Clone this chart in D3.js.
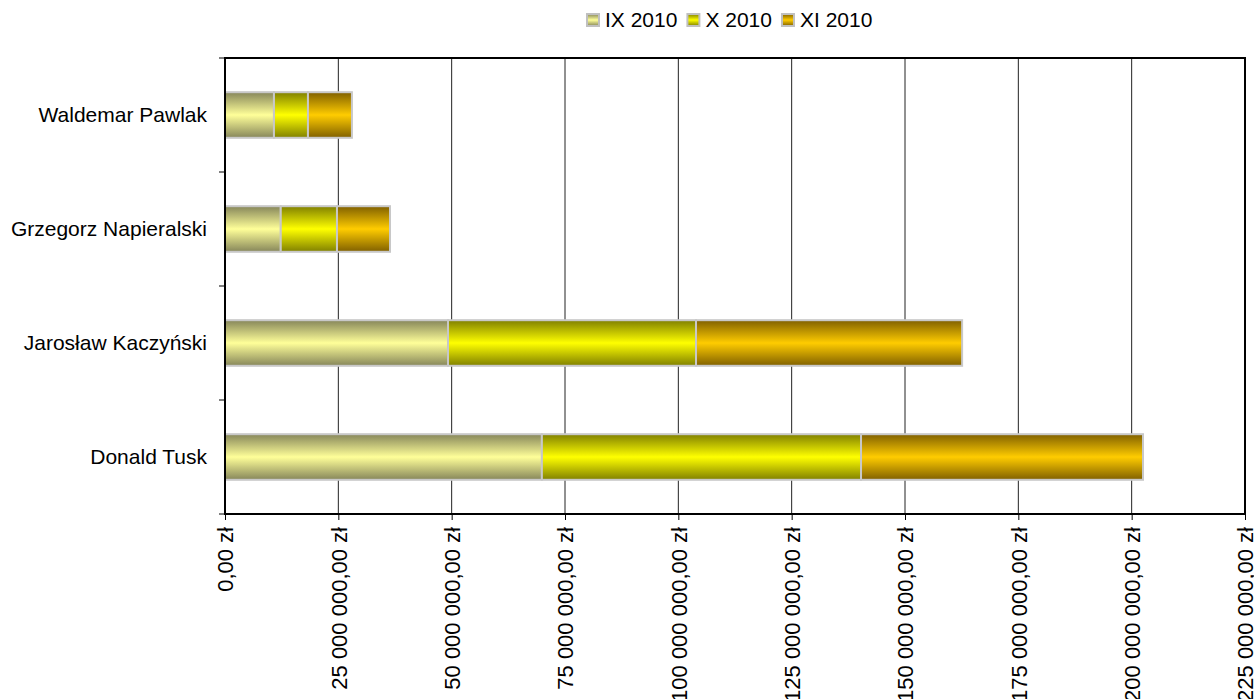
<!DOCTYPE html>
<html>
<head>
<meta charset="utf-8">
<script src="https://cdn.jsdelivr.net/npm/d3@7"></script>
<style>
  body { margin: 0; background: #fff; }
  text { font-family: "Liberation Sans", Arial, sans-serif; fill: #000; }
</style>
</head>
<body>
<script>
const categories = ['Waldemar Pawlak', 'Grzegorz Napieralski', 'Jarosław Kaczyński', 'Donald Tusk']
const seriesNames = ['IX 2010', 'X 2010', 'XI 2010']
const ix2010 = [10.8e6, 12.3e6, 49.2e6, 69.9e6]
const x2010 = [7.5e6, 12.4e6, 54.7e6, 70.4e6]
const xi2010 = [9.7e6, 11.7e6, 58.7e6, 62.2e6]
const tickValues = [0, 25e6, 50e6, 75e6, 100e6, 125e6, 150e6, 175e6, 200e6, 225e6]
const colors = [
  {edge: '#86865a', mid: '#ffff99'},
  {edge: '#808000', mid: '#ffff00'},
  {edge: '#806000', mid: '#ffcc00'}
]

const width = 1254, height = 699
const margin = {left: 225, right: 9, top: 58, bottom: 185}
const plotW = width - margin.left - margin.right
const plotH = height - margin.top - margin.bottom

const svg = d3.select('body').append('svg')
  .attr('width', width)
  .attr('height', height)

// gradients per series
const defs = svg.append('defs')
colors.forEach((c, i) => {
  const g = defs.append('linearGradient')
    .attr('id', 'grad' + i)
    .attr('x1', 0).attr('y1', 0).attr('x2', 0).attr('y2', 1)
  g.append('stop').attr('offset', '0%').attr('stop-color', c.edge)
  g.append('stop').attr('offset', '50%').attr('stop-color', c.mid)
  g.append('stop').attr('offset', '100%').attr('stop-color', c.edge)
})

const x = d3.scaleLinear().domain([0, 225e6]).range([0, plotW])
const y = d3.scaleBand().domain(categories).range([0, plotH]).paddingInner(0.6).paddingOuter(0.3)

const plot = svg.append('g').attr('transform', `translate(${margin.left},${margin.top})`)

// gridlines
plot.selectAll('.grid').data(tickValues.slice(1, -1))
  .enter().append('line')
  .attr('class', 'grid')
  .attr('x1', d => x(d)).attr('x2', d => x(d))
  .attr('y1', 0).attr('y2', plotH)
  .style('stroke', '#222').style('stroke-width', 1)

// stacked data
const rows = categories.map((c, i) => ({name: c, 'IX 2010': ix2010[i], 'X 2010': x2010[i], 'XI 2010': xi2010[i]}))
const stack = d3.stack().keys(seriesNames)(rows)

plot.selectAll('.series').data(stack)
  .enter().append('g')
  .attr('class', 'series')
  .attr('fill', (d, i) => `url(#grad${i})`)
  .selectAll('rect').data(d => d)
  .enter().append('rect')
  .attr('x', d => x(d[0]))
  .attr('y', d => y(d.data.name))
  .attr('width', d => x(d[1]) - x(d[0]))
  .attr('height', y.bandwidth())
  .style('stroke', '#c8c8c8')
  .style('stroke-width', 2)

// border box
plot.append('rect')
  .attr('width', plotW).attr('height', plotH)
  .style('fill', 'none').style('stroke', '#000').style('stroke-width', 2)

// left ticks at band boundaries
const step = plotH / categories.length
plot.selectAll('.ytick').data(d3.range(categories.length + 1))
  .enter().append('line')
  .attr('x1', -6).attr('x2', 0)
  .attr('y1', d => d * step).attr('y2', d => d * step)
  .style('stroke', '#000')

// category labels
plot.selectAll('.ylabel').data(categories)
  .enter().append('text')
  .attr('x', -18)
  .attr('y', d => y(d) + y.bandwidth() / 2)
  .attr('dy', '0.35em')
  .attr('text-anchor', 'end')
  .style('font-size', '21px')
  .text(d => d)

// bottom axis
const fmt = d => d3.format(',.2f')(d).replace(/,/g, ' ').replace('.', ',') + ' zł'
const xAxis = plot.append('g')
  .attr('transform', `translate(0,${plotH})`)
  .call(d3.axisBottom(x).tickValues(tickValues).tickSize(6).tickFormat(fmt))
xAxis.select('.domain').remove()
xAxis.selectAll('.tick line').style('stroke', '#000')
xAxis.selectAll('.tick text')
  .attr('transform', 'rotate(-90)')
  .attr('x', -13).attr('y', 0).attr('dy', '0.35em')
  .attr('text-anchor', 'end')
  .style('font-size', '22px')
  .style('font-family', '"Liberation Sans", Arial, sans-serif')

// legend
const legend = svg.append('g').attr('transform', 'translate(586,20)')
let lx = 0
seriesNames.forEach((s, i) => {
  const item = legend.append('g').attr('transform', `translate(${lx},0)`)
  item.append('rect')
    .attr('x', 1).attr('y', -6).attr('width', 12).attr('height', 12)
    .attr('fill', `url(#grad${i})`)
    .style('stroke', '#c0c0c0').style('stroke-width', 2)
  const t = item.append('text')
    .attr('x', 19).attr('y', 0).attr('dy', '0.35em')
    .style('font-size', '21px')
    .text(s)
  lx += 19 + t.node().getComputedTextLength() + 9
})
</script>
</body>
</html>
